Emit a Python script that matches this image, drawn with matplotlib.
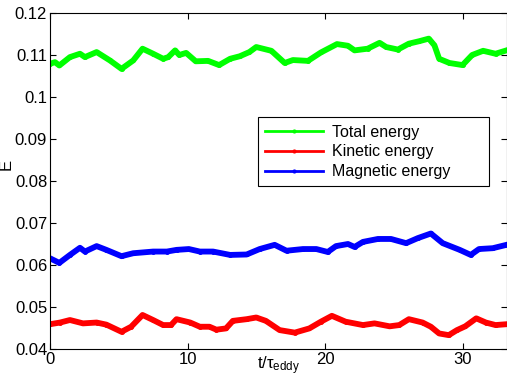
import numpy as np
import matplotlib
matplotlib.use('Agg')
import matplotlib.pyplot as plt

plt.rcParams['font.family'] = ['Liberation Sans', 'DejaVu Sans']

# time samples and energies
t_total = [0, 0.36, 0.68, 1.45, 2.18, 2.54, 3.39, 4.36, 5.2, 6.05, 6.73, 7.5, 8.23, 8.6,
           9.1, 9.4, 9.9, 10.6, 11.5, 12.3, 13.1, 13.8, 14.5, 15.0, 16.1, 17.07, 17.67,
           18.76, 19.7, 20.87, 21.67, 22.15, 23.1, 23.97, 24.45, 25.3, 26.1, 26.87, 27.55,
           27.96, 28.3, 29.05, 30.0, 30.7, 31.5, 32.4, 33.2]
e_total = [0.1079, 0.1083, 0.1075, 0.1095, 0.1103, 0.1095, 0.1107, 0.1087, 0.1067, 0.1087,
           0.1115, 0.1103, 0.1091, 0.1095, 0.1111, 0.1100, 0.1105, 0.1085, 0.1086, 0.1076,
           0.1091, 0.1097, 0.1107, 0.1119, 0.1110, 0.1081, 0.1088, 0.1086, 0.1106, 0.1126,
           0.1122, 0.1111, 0.1115, 0.1129, 0.1119, 0.1113, 0.1127, 0.1133, 0.1139, 0.1123,
           0.1091, 0.1081, 0.1076, 0.1100, 0.1110, 0.1103, 0.1111]

t_kin = [0, 0.73, 1.45, 2.4, 3.39, 4.1, 5.2, 5.9, 6.73, 7.5, 8.23, 8.8, 9.2, 10.2, 10.9,
         11.6, 12.1, 12.8, 13.3, 14.3, 15.0, 15.7, 16.7, 17.8, 18.86, 19.7, 20.5, 21.5,
         22.76, 23.6, 24.7, 25.4, 26.1, 27.1, 27.7, 28.3, 29.0, 29.6, 30.2, 31.0, 31.7,
         32.4, 33.2]
e_kin = [0.0459, 0.0463, 0.0469, 0.0461, 0.0463, 0.0458, 0.0441, 0.0453, 0.0481, 0.0469,
         0.0457, 0.0457, 0.0471, 0.0463, 0.0453, 0.0453, 0.0446, 0.0449, 0.0467, 0.0471,
         0.0475, 0.0467, 0.0445, 0.0439, 0.0449, 0.0465, 0.0479, 0.0465, 0.0457, 0.0461,
         0.0454, 0.0457, 0.0471, 0.0463, 0.0453, 0.0437, 0.0433, 0.0445, 0.0454, 0.0473,
         0.0463, 0.0457, 0.0459]

t_mag = [0, 0.68, 1.45, 2.18, 2.54, 3.39, 4.1, 5.2, 6.05, 7.5, 8.5, 9.2, 10.1, 10.9,
         11.86, 13.1, 14.3, 15.25, 16.34, 17.2, 18.4, 19.37, 20.2, 20.8, 21.67, 22.15,
         22.76, 23.85, 24.8, 25.9, 26.75, 27.7, 28.56, 29.8, 30.6, 31.2, 32.2, 33.2]
e_mag = [0.0616, 0.0605, 0.0624, 0.0641, 0.0632, 0.0645, 0.0636, 0.0621, 0.0628, 0.0632,
         0.0632, 0.0636, 0.0638, 0.0632, 0.0632, 0.0624, 0.0625, 0.0638, 0.0648, 0.0634,
         0.0638, 0.0638, 0.0631, 0.0645, 0.0650, 0.0643, 0.0655, 0.0662, 0.0662, 0.0652,
         0.0664, 0.0675, 0.0652, 0.0636, 0.0624, 0.0638, 0.0640, 0.0648]

yticks = [0.04, 0.05, 0.06, 0.07, 0.08, 0.09, 0.1, 0.11, 0.12]
ytick_labels = ['0.04', '0.05', '0.06', '0.07', '0.08', '0.09', '0.1', '0.11', '0.12']
xticks = [0, 10, 20, 30]

fig = plt.figure(figsize=(5.07, 3.77), dpi=100)
ax = fig.add_axes([50 / 507, 28 / 377, 456.5 / 507, 336 / 377])

ax.plot(t_total, e_total, '.-', color='#00ff00', lw=4.2, ms=5, label='Total energy')
ax.plot(t_kin, e_kin, '.-', color='#ff0000', lw=4.2, ms=5, label='Kinetic energy')
ax.plot(t_mag, e_mag, '.-', color='#0000ff', lw=4.2, ms=5, label='Magnetic energy')

ax.set_xlim(0, 33.2)
ax.set_ylim(0.04, 0.12)
ax.set_xticks(xticks)
ax.set_xticklabels([str(v) for v in xticks])
ax.set_yticks(yticks)
ax.set_yticklabels(ytick_labels)
ax.tick_params(direction='in', top=True, right=True, labelsize=12, length=4, pad=2)
ax.set_xlabel(r'$\mathregular{t/\tau_{eddy}}$', fontsize=12, labelpad=-9)
ax.set_ylabel('E', fontsize=12)
ax.yaxis.set_label_coords(-0.08, 0.55)

leg = ax.legend(loc='upper left', bbox_to_anchor=(0.456, 0.4, 0.506, 0.289),
                mode='expand', borderaxespad=0,
                fontsize=11.5, frameon=True, fancybox=False, edgecolor='black',
                framealpha=1, handlelength=3.6, borderpad=0.45, labelspacing=0.3,
                handletextpad=0.6, markerscale=0.8)
leg.get_frame().set_linewidth(0.8)
for line in leg.get_lines():
    line.set_linewidth(2)

fig.savefig('out.png', dpi=100)
